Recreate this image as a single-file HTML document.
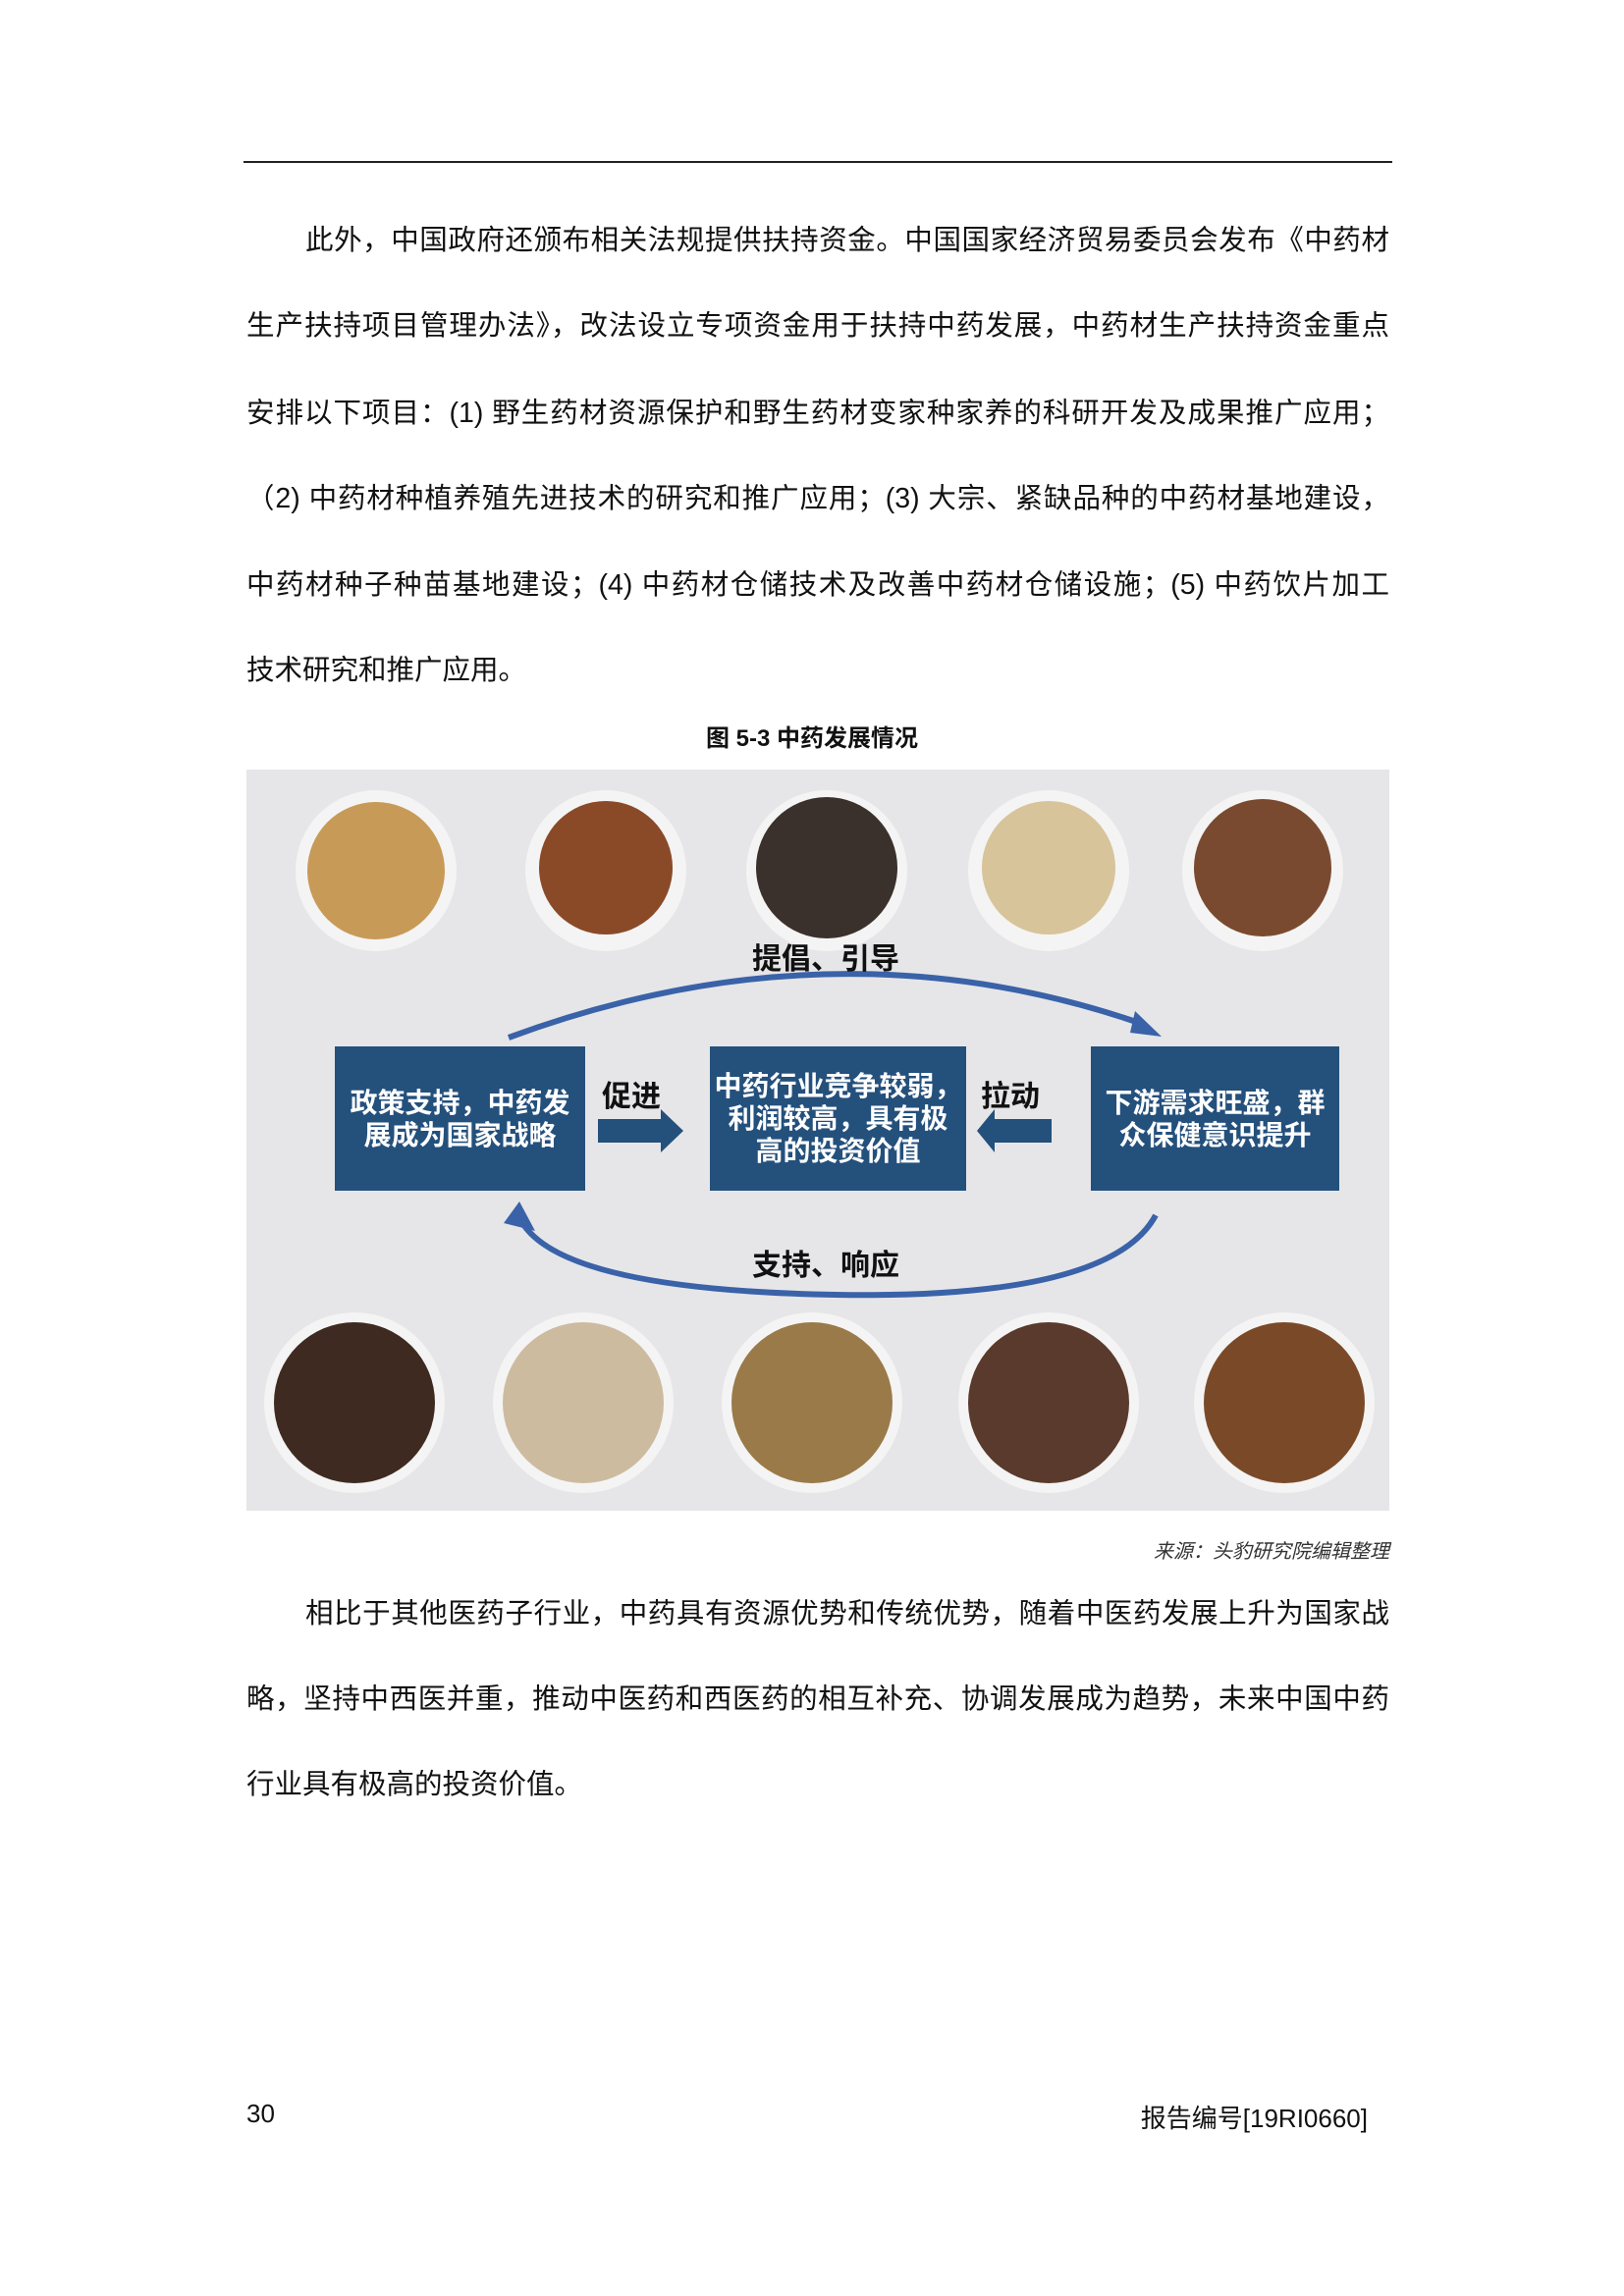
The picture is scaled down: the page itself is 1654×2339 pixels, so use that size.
<!DOCTYPE html>
<html><head><meta charset="utf-8"><style>
body{margin:0;background:#fff;}
.page{position:relative;width:1654px;height:2339px;overflow:hidden;font-family:"Liberation Sans","Noto Sans CJK SC",sans-serif;color:#111;}
.hr{position:absolute;left:248px;top:164px;width:1170px;height:2px;background:#222;}
.ln{position:absolute;left:251px;width:1164px;font-size:28.5px;line-height:40px;white-space:nowrap;}
.j{text-align:justify;text-align-last:justify;white-space:normal;}
.fig{position:absolute;left:251px;top:784px;width:1164px;height:755px;background:#e6e6e8;overflow:hidden;}
.box{position:absolute;background:#24507c;color:#fff;font-weight:bold;font-size:28px;line-height:33px;text-align:center;display:flex;align-items:center;justify-content:center;}
.lab{position:absolute;font-weight:bold;font-size:30px;color:#111;}
</style></head><body><div class="page">
<div class="hr"></div>
<div class="ln j" style="top:225px;padding-left:60px;width:1104px">此外，中国政府还颁布相关法规提供扶持资金。中国国家经济贸易委员会发布《中药材</div>
<div class="ln j" style="top:312px">生产扶持项目管理办法》，改法设立专项资金用于扶持中药发展，中药材生产扶持资金重点</div>
<div class="ln j" style="top:401px">安排以下项目：(1) 野生药材资源保护和野生药材变家种家养的科研开发及成果推广应用；</div>
<div class="ln j" style="top:488px">（2) 中药材种植养殖先进技术的研究和推广应用；(3) 大宗、紧缺品种的中药材基地建设，</div>
<div class="ln j" style="top:576px">中药材种子种苗基地建设；(4) 中药材仓储技术及改善中药材仓储设施；(5) 中药饮片加工</div>
<div class="ln" style="top:663px">技术研究和推广应用。</div>
<div style="position:absolute;left:0;width:1654px;top:732px;text-align:center;font-weight:bold;font-size:24px;">图 5-3 中药发展情况</div>
<div class="fig">
<svg width="1164" height="755" style="position:absolute;left:0;top:0">
<g>
<circle cx="132" cy="103" r="82" fill="#f4f4f4"/><circle cx="132" cy="103" r="70" fill="#c89a58"/>
<circle cx="366" cy="103" r="82" fill="#f4f4f4"/><circle cx="366" cy="100" r="68" fill="#8a4a28"/>
<circle cx="591" cy="103" r="82" fill="#f4f4f4"/><circle cx="591" cy="100" r="72" fill="#3a302c"/>
<circle cx="817" cy="103" r="82" fill="#f4f4f4"/><circle cx="817" cy="100" r="68" fill="#d8c49a"/>
<circle cx="1035" cy="103" r="82" fill="#f4f4f4"/><circle cx="1035" cy="100" r="70" fill="#7a4a30"/>
<circle cx="110" cy="645" r="92" fill="#f4f4f4"/><circle cx="110" cy="645" r="82" fill="#3e2a20"/>
<circle cx="343" cy="645" r="92" fill="#f4f4f4"/><circle cx="343" cy="645" r="82" fill="#cdbba0"/>
<circle cx="576" cy="645" r="92" fill="#f4f4f4"/><circle cx="576" cy="645" r="82" fill="#9a7a48"/>
<circle cx="817" cy="645" r="92" fill="#f4f4f4"/><circle cx="817" cy="645" r="82" fill="#5a3a2c"/>
<circle cx="1057" cy="645" r="92" fill="#f4f4f4"/><circle cx="1057" cy="645" r="82" fill="#7a4a28"/>
</g>
<path d="M267 273 Q600 150 915 260" fill="none" stroke="#3a62a8" stroke-width="6"/>
<polygon points="905,246 932,272 900,268" fill="#3a62a8"/>
<path d="M926 454 Q880 540 600 535 Q320 530 280 460" fill="none" stroke="#3a62a8" stroke-width="6"/>
<polygon points="262,462 278,440 294,470" fill="#3a62a8"/>
<polygon points="358,356 422,356 422,346 445,368 422,390 422,380 358,380" fill="#24507c"/>
<polygon points="820,356 762,356 762,346 744,368 762,390 762,380 820,380" fill="#24507c"/>
</svg>
<div class="box" style="left:90px;top:282px;width:255px;height:147px">政策支持，中药发<br>展成为国家战略</div>
<div class="box" style="left:472px;top:282px;width:261px;height:147px">中药行业竞争较弱，<br>利润较高，具有极<br>高的投资价值</div>
<div class="box" style="left:860px;top:282px;width:253px;height:147px">下游需求旺盛，群<br>众保健意识提升</div>
<div class="lab" style="left:515px;top:168px">提倡、引导</div>
<div class="lab" style="left:515px;top:480px">支持、响应</div>
<div class="lab" style="left:362px;top:308px">促进</div>
<div class="lab" style="left:748px;top:308px">拉动</div>
</div>
<div style="position:absolute;right:239px;top:1564px;font-size:20px;font-style:italic;color:#333">来源：头豹研究院编辑整理</div>
<div class="ln j" style="top:1624px;padding-left:60px;width:1104px">相比于其他医药子行业，中药具有资源优势和传统优势，随着中医药发展上升为国家战</div>
<div class="ln j" style="top:1711px">略，坚持中西医并重，推动中医药和西医药的相互补充、协调发展成为趋势，未来中国中药</div>
<div class="ln" style="top:1798px">行业具有极高的投资价值。</div>
<div style="position:absolute;left:251px;top:2138px;font-size:26px">30</div>
<div style="position:absolute;right:261px;top:2138px;font-size:26px">报告编号[19RI0660]</div>
</div></body></html>
